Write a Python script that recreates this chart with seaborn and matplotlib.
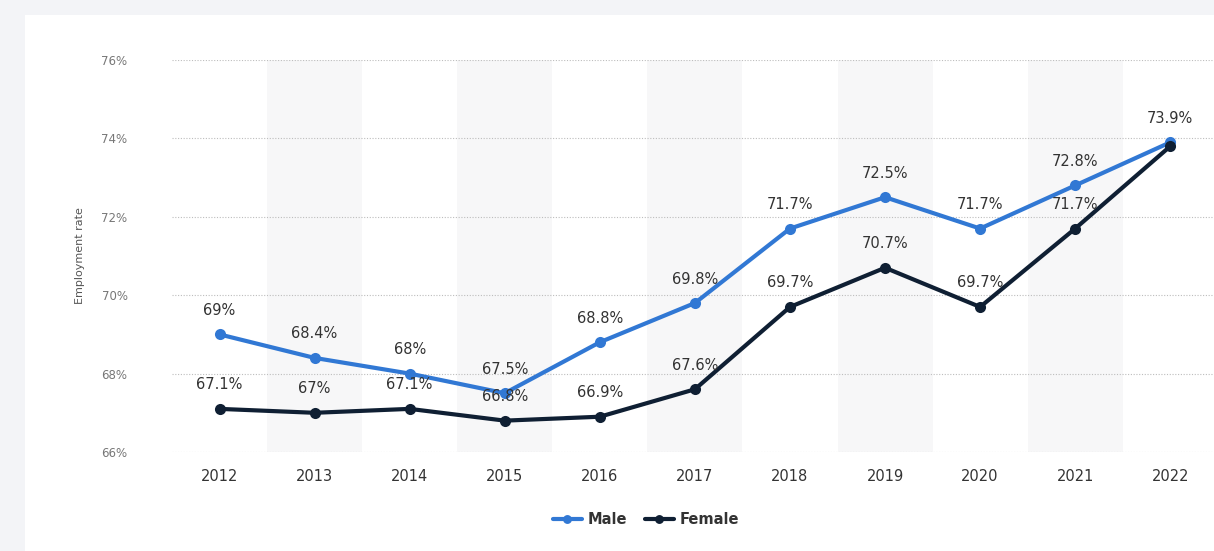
import matplotlib
matplotlib.use("Agg")
import matplotlib.pyplot as plt
import seaborn as sns
import pandas as pd
from matplotlib.patches import Rectangle

years = [2012, 2013, 2014, 2015, 2016, 2017, 2018, 2019, 2020, 2021, 2022]
male = [69.0, 68.4, 68.0, 67.5, 68.8, 69.8, 71.7, 72.5, 71.7, 72.8, 73.9]
female = [67.1, 67.0, 67.1, 66.8, 66.9, 67.6, 69.7, 70.7, 69.7, 71.7, 73.8]
male_labels = ["69%", "68.4%", "68%", "67.5%", "68.8%", "69.8%", "71.7%", "72.5%", "71.7%", "72.8%", "73.9%"]
female_labels = ["67.1%", "67%", "67.1%", "66.8%", "66.9%", "67.6%", "69.7%", "70.7%", "69.7%", "71.7%", ""]
yticks = [66, 68, 70, 72, 74, 76]
series_names = ["Male", "Female"]
colors = {"Male": "#3178d4", "Female": "#0f1f33"}

df = pd.DataFrame({
    "Year": years * 2,
    "Rate": male + female,
    "Series": ["Male"] * len(years) + ["Female"] * len(years),
})

sns.set_theme(style="white")
plt.rcParams["font.family"] = ["DejaVu Sans"]

fig = plt.figure(figsize=(12.14, 5.51), dpi=100)
fig.patch.set_facecolor("#f3f4f7")
bg = Rectangle((25 / 1214, 0), 1 - 25 / 1214, 1 - 15 / 551,
               transform=fig.transFigure, facecolor="white",
               edgecolor="none", zorder=-10)
fig.add_artist(bg)

ax = fig.add_axes([172 / 1214, (551 - 452) / 551, 1 - 172 / 1214, (452 - 60) / 551])
ax.set_facecolor("none")
ax.set_zorder(1)

for i, y in enumerate(years):
    if i % 2 == 1:
        ax.axvspan(y - 0.5, y + 0.5, color="#f7f7f8", zorder=0, lw=0)

for t in yticks:
    ax.axhline(t, color="#bdbdbd", lw=0.8, ls=(0, (1, 1.5)), zorder=1)

sns.lineplot(data=df, x="Year", y="Rate", hue="Series", hue_order=series_names,
             palette=colors, marker="o", markersize=8, markeredgewidth=0,
             linewidth=3, ax=ax, zorder=3, legend=True)

for y, v, lab in zip(years, male, male_labels):
    ax.annotate(lab, (y, v), xytext=(0, 24), textcoords="offset pixels",
                ha="center", va="center", fontsize=10.5, color="#333333", zorder=5)
for y, v, lab in zip(years, female, female_labels):
    if lab:
        ax.annotate(lab, (y, v), xytext=(0, 24), textcoords="offset pixels",
                    ha="center", va="center", fontsize=10.5, color="#333333", zorder=5)

ax.set_xlim(2011.5, 2022.46)
ax.set_ylim(66, 76)
ax.set_xticks(years)
ax.set_xticklabels([str(y) for y in years], fontsize=10.5, color="#333333")
ax.set_yticks(yticks)
ax.set_yticklabels([f"{t}%" for t in yticks], fontsize=8.5, color="#777777")
ax.tick_params(axis="x", length=0, pad=12)
ax.tick_params(axis="y", length=0, pad=32)
ax.set_xlabel("")
ax.set_ylabel("Employment rate", fontsize=8, color="#555555", labelpad=12)
for s in ax.spines.values():
    s.set_visible(False)

leg = ax.legend(loc="upper center", bbox_to_anchor=(0.455, -0.12), ncol=2,
                frameon=False, fontsize=10.5, handlelength=2, columnspacing=1.2,
                handletextpad=0.4, markerscale=0.8)
for txt in leg.get_texts():
    txt.set_color("#333333")
    txt.set_fontweight("bold")
leg.set_title(None)

fig.savefig("out.png", dpi=100, facecolor=fig.get_facecolor())
